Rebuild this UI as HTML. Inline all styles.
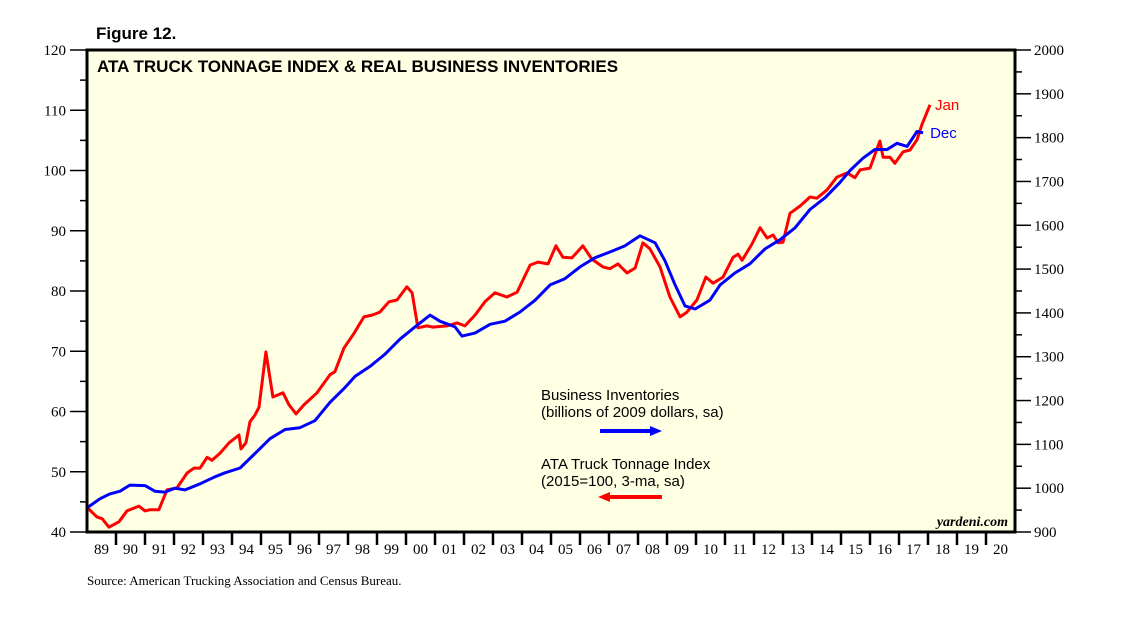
<!DOCTYPE html>
<html><head><meta charset="utf-8"><style>
body{margin:0;background:#fff;}
svg{display:block;font-family:"Liberation Sans",sans-serif;}
</style></head><body>
<svg id="c" width="1138" height="621" viewBox="0 0 1138 621">
<text x="96" y="39" font-size="17" font-weight="bold">Figure 12.</text>
<rect x="87" y="50" width="928" height="482" fill="#ffffe3"/>
<g id="axes"></g>
<g id="series"></g>
<rect x="87" y="50" width="928" height="482" fill="none" stroke="#000" stroke-width="3"/>
<text x="97" y="72" font-size="17" font-weight="bold">ATA TRUCK TONNAGE INDEX &amp; REAL BUSINESS INVENTORIES</text>
<text x="541" y="400" font-size="15">Business Inventories</text>
<text x="541" y="417" font-size="15">(billions of 2009 dollars, sa)</text>
<g><line x1="600" y1="431" x2="652" y2="431" stroke="#0000ff" stroke-width="4"/><polygon points="650,426 662,431 650,436" fill="#0000ff"/></g>
<text x="541" y="469" font-size="15">ATA Truck Tonnage Index</text>
<text x="541" y="486" font-size="15">(2015=100, 3-ma, sa)</text>
<g><line x1="608" y1="497" x2="662" y2="497" stroke="#ff0000" stroke-width="4"/><polygon points="610,492 598,497 610,502" fill="#ff0000"/></g>
<text x="1008" y="526" font-size="14" font-weight="bold" font-style="italic" text-anchor="end" font-family="Liberation Serif, serif">yardeni.com</text>
<text x="87" y="585" font-size="13" font-family="Liberation Serif, serif">Source: American Trucking Association and Census Bureau.</text>
</svg>
<script>
const redYears=[1989.00,1989.34,1989.52,1989.76,1990.10,1990.38,1990.79,1991.00,1991.17,1991.48,
1991.76,1992.10,1992.45,1992.69,1992.90,1993.14,1993.31,1993.59,1993.90,1994.24,
1994.31,1994.48,1994.62,1994.79,1994.93,1995.17,1995.41,1995.76,1995.97,1996.21,
1996.48,1996.93,1997.38,1997.55,1997.86,1998.21,1998.55,1998.83,1999.10,1999.41,
1999.69,2000.03,2000.21,2000.41,2000.72,2000.93,2001.41,2001.76,2002.03,2002.38,
2002.72,2003.07,2003.48,2003.83,2004.28,2004.55,2004.90,2005.17,2005.41,2005.72,
2006.10,2006.41,2006.79,2007.03,2007.31,2007.62,2007.90,2008.17,2008.41,2008.76,
2009.10,2009.45,2009.69,2010.03,2010.34,2010.59,2010.93,2011.28,2011.45,2011.59,
2011.93,2012.21,2012.45,2012.66,2012.83,2013.00,2013.24,2013.59,2013.93,2014.17,
2014.52,2014.86,2015.21,2015.48,2015.66,2016.00,2016.34,2016.45,2016.69,2016.86,
2017.14,2017.38,2017.62,2017.79,2018.07];
const redValues=[44.1,42.5,42.2,40.8,41.7,43.5,44.3,43.5,43.7,43.7,
47.0,47.3,49.8,50.6,50.6,52.4,51.9,53.1,54.8,56.1,
53.8,54.8,58.3,59.4,60.7,69.9,62.4,63.1,61.1,59.6,
61.1,63.1,66.1,66.6,70.5,73.0,75.7,76.0,76.5,78.2,
78.5,80.7,79.7,73.9,74.2,74.0,74.2,74.7,74.2,76.0,
78.2,79.7,79.0,79.8,84.3,84.8,84.5,87.5,85.6,85.5,
87.5,85.3,84.0,83.7,84.5,83.0,83.8,88.0,87.0,84.0,
79.0,75.7,76.5,78.5,82.3,81.3,82.3,85.6,86.1,85.1,
87.8,90.5,88.8,89.3,88.0,88.1,92.9,94.1,95.6,95.4,
96.8,98.9,99.6,98.8,100.1,100.4,104.9,102.2,102.2,101.2,
103.1,103.4,105.1,107.6,110.9];
const blueYears=[1989.0,1989.45,1989.79,1990.14,1990.48,1991.0,1991.34,1991.69,1992.03,1992.38,1992.9,1993.41,1993.76,1994.28,1994.79,1995.31,1995.83,1996.34,1996.86,1997.38,1997.9,1998.24,1998.76,1999.28,1999.79,2000.31,2000.83,2001.17,2001.69,2001.93,2002.38,2002.9,2003.41,2003.93,2004.45,2004.97,2005.48,2006.0,2006.52,2007.03,2007.55,2008.07,2008.59,2008.93,2009.28,2009.62,2009.97,2010.48,2010.83,2011.34,2011.86,2012.38,2012.9,2013.41,2013.93,2014.45,2014.97,2015.31,2015.76,2016.17,2016.59,2016.93,2017.28,2017.62,2017.83];
const blueValues=[955,976,987,993,1007,1006,993,991,1000,996,1010,1026,1035,1046,1079,1113,1134,1138,1154,1196,1230,1255,1278,1306,1340,1368,1395,1381,1368,1347,1354,1374,1381,1402,1429,1464,1478,1505,1526,1539,1553,1576,1560,1519,1464,1416,1409,1429,1464,1491,1512,1546,1567,1594,1636,1663,1698,1725,1753,1773,1773,1787,1780,1814,1811];
const leftTicks=[40,50,60,70,80,90,100,110,120];
const rightTicks=[900,1000,1100,1200,1300,1400,1500,1600,1700,1800,1900,2000];
const yearLabels=["89","90","91","92","93","94","95","96","97","98","99","00","01","02","03","04","05","06","07","08","09","10","11","12","13","14","15","16","17","18","19","20"];
const NS="http://www.w3.org/2000/svg";
const X0=87,X1=1015,Y0=532,Y1=50;
const xs=y=>X0+(y-1989)*(X1-X0)/32;
const yl=v=>Y0-(v-40)*(Y0-Y1)/80;
const yr=v=>Y0-(v-900)*(Y0-Y1)/1100;
function mk(t,a,p){const e=document.createElementNS(NS,t);for(const k in a)e.setAttribute(k,a[k]);p.appendChild(e);return e;}
const ax=document.getElementById('axes'),se=document.getElementById('series');
leftTicks.forEach((v,i)=>{
  const t=mk('line',{x1:70,x2:X0,y1:yl(v),y2:yl(v),stroke:'#000','stroke-width':1.5},ax);
  
  
  const l=mk('text',{x:66,y:yl(v)+5,'font-size':15,'text-anchor':'end','font-family':'Liberation Serif, serif'},ax);l.textContent=v;
  
  
  if(i<leftTicks.length-1){const m=mk('line',{x1:80,x2:X0,y1:yl(v+5),y2:yl(v+5),stroke:'#000','stroke-width':1.5},ax);
  
  }
});
rightTicks.forEach((v,i)=>{
  const t=mk('line',{x1:X1,x2:1031,y1:yr(v),y2:yr(v),stroke:'#000','stroke-width':1.5},ax);
  
  
  const l=mk('text',{x:1034,y:yr(v)+5,'font-size':15,'font-family':'Liberation Serif, serif'},ax);l.textContent=v;
  
  
  if(i<rightTicks.length-1){const m=mk('line',{x1:X1,x2:1022,y1:yr(v+50),y2:yr(v+50),stroke:'#000','stroke-width':1.5},ax);
  
  }
});
yearLabels.forEach((s,i)=>{
  if(i>0){const t=mk('line',{x1:xs(1989+i),x2:xs(1989+i),y1:Y0,y2:545,stroke:'#000','stroke-width':2.5},ax);
  
  }
  const l=mk('text',{x:xs(1989.5+i),y:554,'font-size':15,'text-anchor':'middle','font-family':'Liberation Serif, serif'},ax);l.textContent=s;
  
  
});
const rp=mk('path',{d:redYears.map((y,i)=>(i?'L':'M')+xs(y).toFixed(1)+','+yl(redValues[i]).toFixed(1)).join(''),fill:'none',stroke:'#ff0000','stroke-width':3,'stroke-linejoin':'round'},se);


const bp=mk('path',{d:blueYears.map((y,i)=>(i?'L':'M')+xs(y).toFixed(1)+','+yr(blueValues[i]).toFixed(1)).join(''),fill:'none',stroke:'#0000ff','stroke-width':3,'stroke-linejoin':'round'},se);


const rn=redYears.length-1,bn=blueYears.length-1;
const jl=mk('text',{x:xs(redYears[rn])+5,y:yl(redValues[rn])+5,'font-size':15,fill:'#ff0000'},se);jl.textContent='Jan';


const dl=mk('text',{x:xs(blueYears[bn])+7,y:yr(blueValues[bn])+5,'font-size':15,fill:'#0000ff'},se);dl.textContent='Dec';


</script>
</body></html>
